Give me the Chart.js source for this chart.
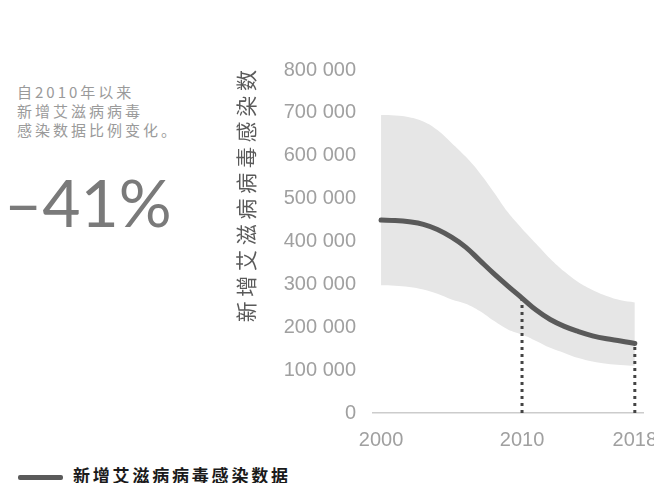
<!DOCTYPE html>
<html>
<head>
<meta charset="utf-8">
<script src="https://cdn.jsdelivr.net/npm/chart.js@4/dist/chart.umd.min.js"></script>
<style>
    html, body { margin: 0; padding: 0; background: #fff; overflow: hidden; width: 654px; height: 483px; }
    #intro { position: absolute; left: 17px; top: 82px; font: 15px "Noto Sans CJK SC", sans-serif; color: #9a9a9a; line-height: 19px; letter-spacing: 3px; }
    #change { position: absolute; left: 4px; top: 162px; font: 400 66px Lato, "Noto Sans", sans-serif; color: #7a7a7a; }
    #legend { position: absolute; left: 18px; top: 462px; font: bold 17px "Noto Sans CJK SC", sans-serif; color: #1a1a1a; letter-spacing: 2.8px; white-space: nowrap; }
    #legend span { display: inline-block; width: 45px; height: 5px; background: #5a5a5a; vertical-align: middle; margin-right: 10px; border-radius: 2px; }
    #chart-box { position: absolute; left: 225px; top: 50px; width: 450px; height: 410px; }
</style>
</head>
<body>
<div id="intro">自2010年以来<br>新增艾滋病病毒<br>感染数据比例变化。</div>
<div id="change">–41%</div>
<div id="legend"><span></span>新增艾滋病病毒感染数据</div>
<div id="chart-box"><canvas id="chart"></canvas></div>
<script>
const years = [2000, 2001, 2002, 2003, 2004, 2005, 2006, 2007, 2008, 2009, 2010, 2011, 2012, 2013, 2014, 2015, 2016, 2017, 2018];
const newInfections = [450000, 449000, 446000, 440000, 428000, 410000, 387000, 356000, 325000, 296000, 268000, 240000, 218000, 202000, 190000, 180000, 173000, 168000, 162000];
const upperBound = [695000, 694000, 690000, 680000, 660000, 630000, 598000, 560000, 515000, 468000, 430000, 395000, 360000, 330000, 305000, 287000, 273000, 263000, 258000];
const lowerBound = [298000, 297000, 294000, 288000, 278000, 265000, 255000, 238000, 215000, 195000, 183000, 168000, 152000, 140000, 128000, 120000, 115000, 112000, 110000];
const xTicks = [2000, 2010, 2018];
const markerYears = [2010, 2018];
const yTitle = '新 增 艾 滋 病 病 毒 感 染 数';

const GREY_LINE = '#5a5a5a';

function points(values) {
    return years.map((y, i) => ({ x: y, y: values[i] }));
}

//? dotted drop lines at 2010 and 2018
const markerSets = markerYears.map(yr => {
    const v = newInfections[years.indexOf(yr)];
    return {
        type: 'line',
        order: 1,
        data: [{ x: yr, y: 0 }, { x: yr, y: v }],
        borderColor: '#444',
        borderWidth: 3,
        borderDash: [3, 4],
        pointRadius: 0,
        fill: false
    };
});

const chart = new Chart('chart', {
    type: 'line',
    data: {
        datasets: [{
            order: 3,
            data: points(upperBound),
            borderWidth: 0,
            borderColor: 'rgba(0,0,0,0)',
            pointRadius: 0,
            tension: 0.4,
            fill: false
        }, {
            order: 2,
            data: points(lowerBound),
            borderWidth: 0,
            borderColor: 'rgba(0,0,0,0)',
            backgroundColor: '#e6e6e6',
            pointRadius: 0,
            tension: 0.4,
            fill: '-1'
        },
        ...markerSets,
        {
            order: 0,
            data: points(newInfections),
            borderColor: GREY_LINE,
            borderWidth: 5,
            borderCapStyle: 'round',
            pointRadius: 0,
            tension: 0.4,
            fill: false
        }]
    },
    options: {
        responsive: true,
        maintainAspectRatio: false,
        animation: false,
        layout: { padding: { top: 20, right: 32, bottom: 0, left: 0 } },
        plugins: { legend: { display: false }, tooltip: { enabled: false } },
        scales: {
            x: {
                type: 'linear',
                min: 1999.43,
                max: 2018.58,
                afterBuildTicks: axis => { axis.ticks = xTicks.map(v => ({ value: v })); },
                afterFit: axis => { axis.height = 47; axis.paddingLeft = 0; axis.paddingRight = 0; },
                ticks: {
                    color: '#a0a0a0',
                    font: { family: 'Liberation Sans', size: 20 },
                    padding: 15,
                    maxRotation: 0,
                    callback: v => String(v)
                },
                grid: { display: false, drawTicks: false },
                border: { color: '#cccccc', width: 1.5 }
            },
            y: {
                min: 0,
                max: 800000,
                afterFit: axis => { axis.width = 148; axis.paddingTop = 0; axis.paddingBottom = 0; },
                ticks: {
                    stepSize: 100000,
                    color: '#a0a0a0',
                    font: { family: 'Liberation Sans', size: 20 },
                    padding: 17,
                    callback: v => String(v).replace(/\B(?=(\d{3})+(?!\d))/g, ' ')
                },
                grid: { display: false, drawTicks: false },
                border: { display: false },
                title: {
                    display: true,
                    text: yTitle,
                    align: 'end',
                    color: '#5a5a5a',
                    font: { family: 'Noto Sans CJK SC', size: 21 },
                    padding: { top: 8, bottom: 0 }
                }
            }
        }
    }
});
</script>
</body>
</html>
